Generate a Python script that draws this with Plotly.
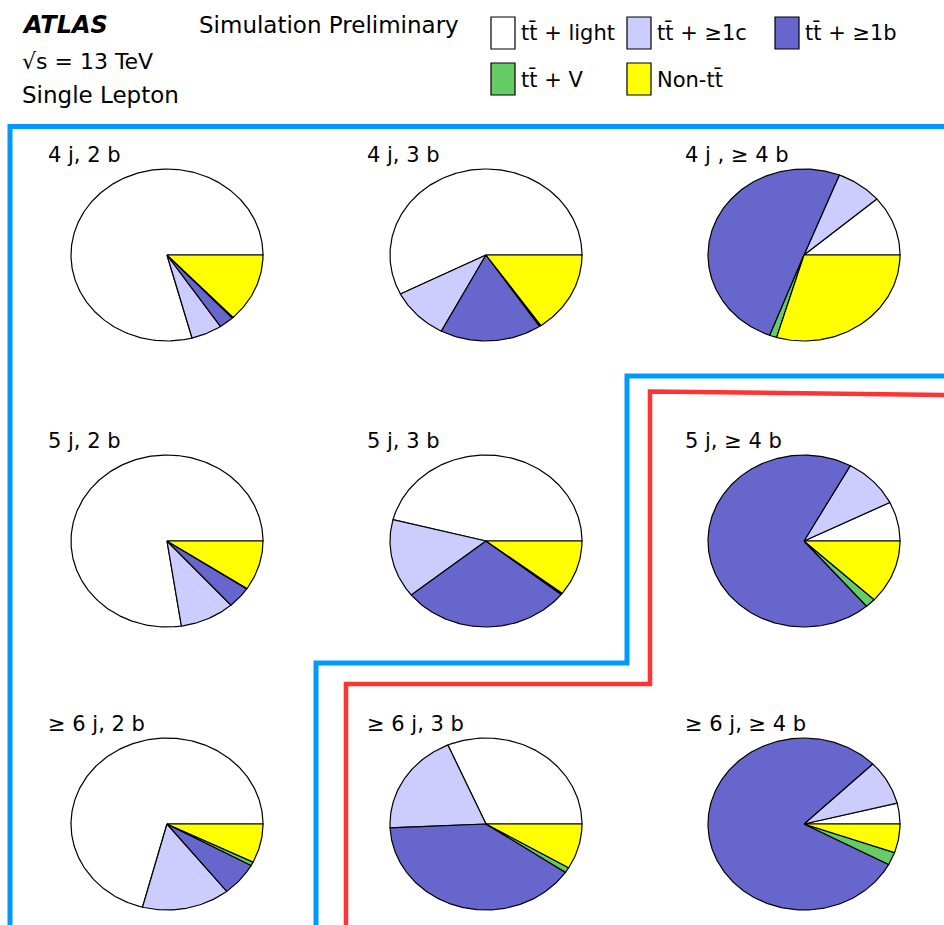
import numpy as np
import plotly.graph_objects as go

W, H = 944, 925

# Region labels (row-major: 4 j, 5 j, >=6 j  x  2 b, 3 b, >=4 b)
regions = ["4 j, 2 b", "4 j, 3 b", "4 j , ≥ 4 b",
           "5 j, 2 b", "5 j, 3 b", "5 j, ≥ 4 b",
           "≥ 6 j, 2 b", "≥ 6 j, 3 b", "≥ 6 j, ≥ 4 b"]

# Process fractions per region
tt_light = [0.792, 0.575, 0.113, 0.774, 0.460, 0.074, 0.709, 0.315, 0.039]
tt_c     = [0.052, 0.098, 0.077, 0.092, 0.148, 0.096, 0.148, 0.192, 0.084]
tt_b     = [0.025, 0.171, 0.502, 0.040, 0.285, 0.693, 0.063, 0.398, 0.799]
tt_V     = [0.002, 0.003, 0.012, 0.001, 0.003, 0.0175, 0.007, 0.010, 0.024]
non_tt   = [0.129, 0.153, 0.296, 0.093, 0.104, 0.1195, 0.073, 0.085, 0.054]

process_names = ["tt̄ + light", "tt̄ + ≥1c", "tt̄ + ≥1b", "tt̄ + V", "Non-tt̄"]
process_colors = ["#ffffff", "#ccccff", "#6666cc", "#66cc66", "#ffff00"]

# Layout of the 3x3 grid (pixel centres) and ellipse radii
col_x = [167, 486, 804]
row_y = [255, 541, 824]
RX, RY, PAD = 96, 86, 6

fig = go.Figure()
layout_axes = {}
annotations = []

series = [tt_light, tt_c, tt_b, tt_V, non_tt]
for i, label in enumerate(regions):
    r, c = divmod(i, 3)
    cx, cy = col_x[c], row_y[r]
    k = "" if i == 0 else str(i + 1)
    layout_axes["xaxis" + k] = dict(
        domain=[(cx - RX - PAD) / W, (cx + RX + PAD) / W],
        range=[-(RX + PAD) / RX, (RX + PAD) / RX],
        visible=False, fixedrange=True)
    layout_axes["yaxis" + k] = dict(
        domain=[1 - (cy + RY + PAD) / H, 1 - (cy - RY - PAD) / H],
        range=[-(RY + PAD) / RY, (RY + PAD) / RY],
        visible=False, fixedrange=True)

    vals = np.array([s[i] for s in series], dtype=float)
    vals = vals / vals.sum()
    edges = np.concatenate([[0.0], np.cumsum(vals)]) * 2 * np.pi
    for j in range(len(vals)):
        t0, t1 = edges[j], edges[j + 1]
        n = max(3, int(np.ceil((t1 - t0) / (2 * np.pi) * 360)) + 2)
        t = np.linspace(t0, t1, n)
        xs = np.concatenate([[0.0], np.cos(t), [0.0]])
        ys = np.concatenate([[0.0], np.sin(t), [0.0]])
        fig.add_trace(go.Scatter(
            x=xs, y=ys, mode="lines", fill="toself",
            fillcolor=process_colors[j],
            line=dict(color="black", width=1.2),
            xaxis="x" + k, yaxis="y" + k,
            name=process_names[j], showlegend=False,
            hoverinfo="skip"))

    annotations.append(dict(
        text=label, xref="paper", yref="paper",
        x=(cx - 121) / W, y=1 - (cy - 100) / H,
        xanchor="left", yanchor="middle", showarrow=False,
        font=dict(family="DejaVu Sans", size=21, color="black")))

# Header texts
hdr_font = dict(family="DejaVu Sans", size=21, color="black")
big_font = dict(family="DejaVu Sans", size=23, color="black")
annotations += [
    dict(text="<b><i>ATLAS</i></b>", x=20 / W, y=1 - 25 / H,
         font=dict(family="DejaVu Sans", size=24, color="black")),
    dict(text="√s = 13 TeV", x=20 / W, y=1 - 62 / H,
         font=dict(family="DejaVu Sans", size=22, color="black")),
    dict(text="Single Lepton", x=20 / W, y=1 - 95 / H, font=big_font),
    dict(text="Simulation Preliminary", x=197 / W, y=1 - 25 / H, font=big_font),
]
for a in annotations[-4:]:
    a.update(xref="paper", yref="paper", xanchor="left", yanchor="middle",
             showarrow=False)

# Legend boxes and entries
shapes = []
leg_pos = [(491, 17), (627, 17), (775, 17), (491, 63), (627, 63)]
for (lx, ly), name, col in zip(leg_pos, process_names, process_colors):
    shapes.append(dict(type="rect", xref="paper", yref="paper",
                       x0=lx / W, x1=(lx + 24) / W,
                       y0=1 - (ly + 32) / H, y1=1 - ly / H,
                       fillcolor=col, line=dict(color="black", width=1.2)))
    annotations.append(dict(text=name, xref="paper", yref="paper",
                            x=(lx + 28) / W, y=1 - (ly + 16) / H,
                            xanchor="left", yanchor="middle", showarrow=False,
                            font=hdr_font))


def px_path(points):
    return "M " + " L ".join(f"{x / W:.5f},{1 - y / H:.5f}" for x, y in points)


# Region boundary lines
blue, red = "#0099ff", "#ff3333"
shapes += [
    dict(type="path", xref="paper", yref="paper",
         path=px_path([(10, 930), (10, 126.5), (950, 126.5)]),
         line=dict(color=blue, width=5)),
    dict(type="path", xref="paper", yref="paper",
         path=px_path([(950, 376), (627, 376), (627, 663), (316, 663), (316, 930)]),
         line=dict(color=blue, width=5)),
    dict(type="path", xref="paper", yref="paper",
         path=px_path([(950, 395), (650, 391.5), (650, 684), (346, 684), (346, 930)]),
         line=dict(color=red, width=4.5)),
]

fig.update_layout(
    width=W, height=H, margin=dict(l=0, r=0, t=0, b=0),
    paper_bgcolor="white", plot_bgcolor="rgba(0,0,0,0)",
    showlegend=False, annotations=annotations, shapes=shapes,
    **layout_axes)

fig.write_html("out.html")
